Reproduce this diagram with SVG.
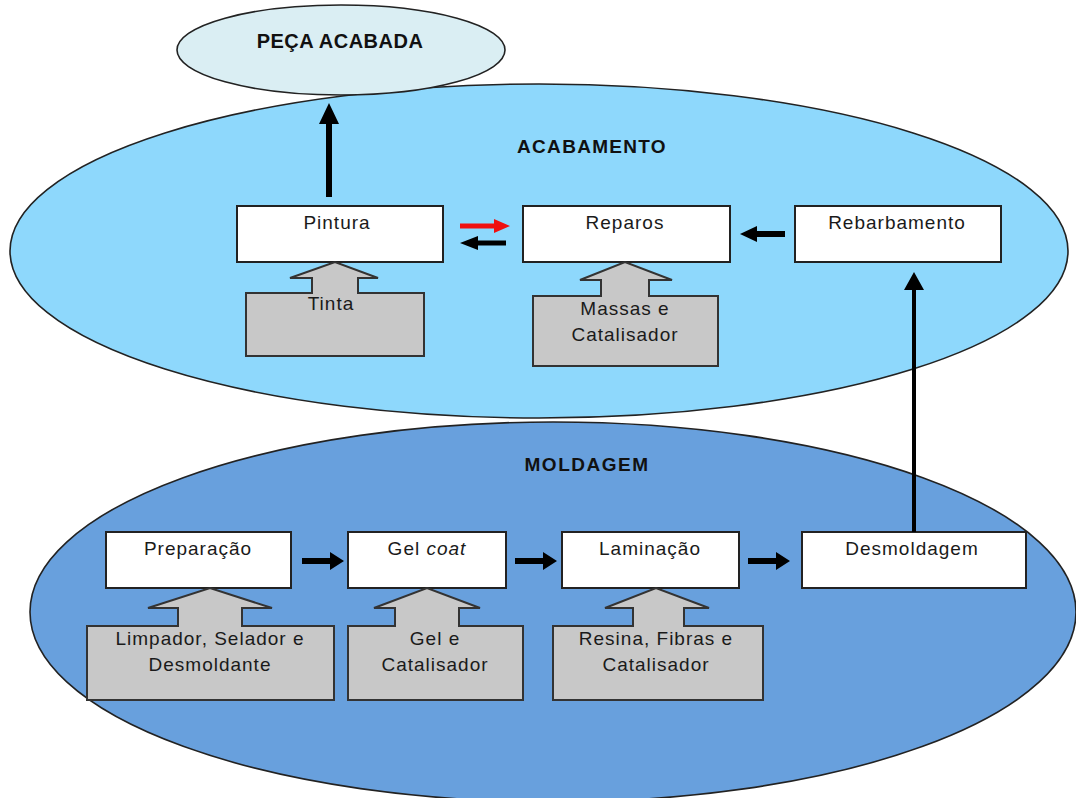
<svg xmlns="http://www.w3.org/2000/svg" width="1076" height="798" viewBox="0 0 1076 798">
<style>
.ell{stroke:#222;stroke-width:1.6}
.box{fill:#fff;stroke:#222;stroke-width:2}
.call{fill:#c8c8c8;stroke:#333;stroke-width:2;stroke-linejoin:miter}
.t{font-family:"Liberation Sans",Arial,sans-serif;font-size:19px;letter-spacing:1px;fill:#1a1a1a;text-anchor:middle}
.h{font-family:"Liberation Sans",Arial,sans-serif;font-weight:bold;fill:#111;text-anchor:middle}
.arr{fill:#000}
.red{fill:#f01010}
</style>
<rect width="1076" height="798" fill="#fff"/>
<g id="moldagem">
<ellipse class="ell" cx="553" cy="612" rx="523" ry="190" fill="#68a0dd"/>
<text class="h" x="587" y="471" font-size="19" letter-spacing="1.5">MOLDAGEM</text>
</g>
<g id="acabamento">
<ellipse class="ell" cx="539" cy="251" rx="529" ry="167" fill="#8ed8fc"/>
<text class="h" x="592" y="153" font-size="19" letter-spacing="1.3">ACABAMENTO</text>
</g>
<g id="peca-acabada">
<ellipse class="ell" cx="341" cy="50" rx="164" ry="45" fill="#daeef3"/>
<text class="h" x="340" y="48" font-size="20" letter-spacing="0.5">PEÇA ACABADA</text>
</g>
<g id="pintura">
<rect class="box" x="237" y="206" width="206" height="56"/>
<text class="t" x="337" y="229">Pintura</text>
</g>
<g id="tinta">
<path class="call" d="M246,293 H312 V278 H290 L335,262 L378,278 H358 V293 H424 V356 H246 Z"/>
<text class="t" x="331" y="310">Tinta</text>
</g>
<g id="reparos">
<rect class="box" x="523" y="206" width="207" height="56"/>
<text class="t" x="625" y="229">Reparos</text>
</g>
<g id="massas">
<path class="call" d="M533,296 H601 V280 H580 L625,262 L672,280 H649 V296 H718 V366 H533 Z"/>
<text class="t" x="625" y="315">Massas e</text>
<text class="t" x="625" y="341">Catalisador</text>
</g>
<g id="rebarbamento">
<rect class="box" x="795" y="206" width="206" height="56"/>
<text class="t" x="897" y="229">Rebarbamento</text>
</g>
<g id="preparacao">
<rect class="box" x="106" y="532" width="185" height="56"/>
<text class="t" x="198" y="555">Preparação</text>
</g>
<g id="limpador">
<path class="call" d="M87,626 H178 V608 H148 L210,588 L272,608 H242 V626 H334 V700 H87 Z"/>
<text class="t" x="210" y="645">Limpador, Selador e</text>
<text class="t" x="210" y="671">Desmoldante</text>
</g>
<g id="gelcoat">
<rect class="box" x="348" y="532" width="158" height="56"/>
<text class="t" x="427" y="555">Gel <tspan font-style="italic">coat</tspan></text>
</g>
<g id="gel">
<path class="call" d="M348,626 H395 V608 H374 L427,588 L480,608 H459 V626 H523 V700 H348 Z"/>
<text class="t" x="435" y="645">Gel e</text>
<text class="t" x="435" y="671">Catalisador</text>
</g>
<g id="laminacao">
<rect class="box" x="562" y="532" width="177" height="56"/>
<text class="t" x="650" y="555">Laminação</text>
</g>
<g id="resina">
<path class="call" d="M553,626 H633 V608 H605 L656,588 L709,608 H684 V626 H763 V700 H553 Z"/>
<text class="t" x="656" y="645">Resina, Fibras e</text>
<text class="t" x="656" y="671">Catalisador</text>
</g>
<g id="desmoldagem">
<rect class="box" x="802" y="532" width="224" height="56"/>
<text class="t" x="912" y="555">Desmoldagem</text>
</g>
<g id="connectors">
<path class="arr" d="M326,197 V124 H319 L329,103 L339,124 H332 V197 Z"/>
<path class="red" d="M460,223.5 H494 V219 L510,226 L494,233 V228.5 H460 Z"/>
<path class="arr" d="M506,240.5 H478 V236 L460,243 L478,250 V245.5 H506 Z"/>
<path class="arr" d="M785,231 H757 V226 L740,234 L757,242 V237 H785 Z"/>
<path class="arr" d="M912,532 V290 H904 L914,272 L924,290 H916 V532 Z"/>
<path class="arr" d="M302,558 H330 V552 L344,561 L330,570 V564 H302 Z"/>
<path class="arr" d="M515,558 H543 V552 L557,561 L543,570 V564 H515 Z"/>
<path class="arr" d="M748,558 H776 V552 L790,561 L776,570 V564 H748 Z"/>
</g>
</svg>
